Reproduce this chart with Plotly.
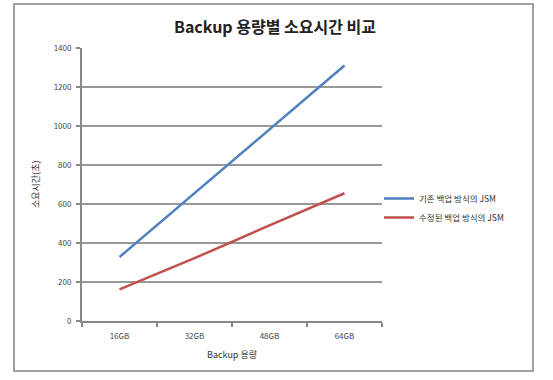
import plotly.graph_objects as go

categories = ["16GB", "32GB", "48GB", "64GB"]
series_names = ["기존 백업 방식의 JSM", "수정된 백업 방식의 JSM"]
old_values = [328, 655, 983, 1310]
new_values = [162, 322, 490, 655]
colors = ["#4F81BD", "#C0504D"]
y_ticks = [0, 200, 400, 600, 800, 1000, 1200, 1400]

FONT = "Noto Sans CJK KR, Noto Sans, sans-serif"
W, H = 553, 380
L, R, T, B = 82, 382, 48, 321

fig = go.Figure()
for name, vals, col in zip(series_names, [old_values, new_values], colors):
    fig.add_trace(go.Scatter(x=categories, y=vals, mode="lines", name=name,
                             line=dict(color=col, width=2.5)))

def px_x(p):
    return (p - L) / (R - L)

def px_y(p):
    return (B - p) / (B - T)

fig.update_layout(
    width=W, height=H,
    margin=dict(l=L, r=W - R, t=T, b=H - B, pad=0),
    paper_bgcolor="white", plot_bgcolor="white",
    font=dict(family=FONT, size=8, color="#333333"),
    title=dict(text="<b>Backup 용량별 소요시간 비교</b>", x=275 / W, xanchor="center",
               y=1 - 27 / H, yanchor="middle", font=dict(size=16, color="#222222", family=FONT)),
    showlegend=True,
    legend=dict(x=px_x(379), y=px_y(184), xanchor="left", yanchor="top",
                font=dict(size=8.5, color="#333333"), bgcolor="rgba(0,0,0,0)",
                tracegroupgap=0, itemwidth=30),
    xaxis=dict(type="category", range=[-0.5, 3.5], showgrid=False,
               showline=True, linecolor="#888888", linewidth=2,
               ticks="outside", tickson="boundaries", ticklen=4, tickcolor="#888888",
               tickwidth=1.5, ticklabelstandoff=6, tickfont=dict(size=8, color="#444444")),
    yaxis=dict(range=[0, 1400], tickvals=y_ticks, showgrid=True, gridcolor="#999999",
               gridwidth=1.5, showline=True, linecolor="#888888", linewidth=2,
               ticks="outside", ticklen=4, tickcolor="#888888", tickwidth=1.5,
               ticklabelstandoff=3,
               tickfont=dict(size=8, color="#444444"), zeroline=False),
    shapes=[dict(type="rect", xref="paper", yref="paper",
                 x0=px_x(14), x1=px_x(533), y0=px_y(371), y1=px_y(4),
                 line=dict(color="#a0a0a0", width=2), layer="below")],
    annotations=[
        dict(text="소요시간(초)", xref="paper", yref="paper", x=px_x(35), y=px_y(185),
             showarrow=False, textangle=-90, font=dict(size=9, color="#333333"),
             xanchor="center", yanchor="middle"),
        dict(text="Backup 용량", xref="paper", yref="paper", x=px_x(232), y=px_y(354),
             showarrow=False, font=dict(size=9, color="#333333"),
             xanchor="center", yanchor="middle"),
    ],
)

fig.write_html("out.html")
